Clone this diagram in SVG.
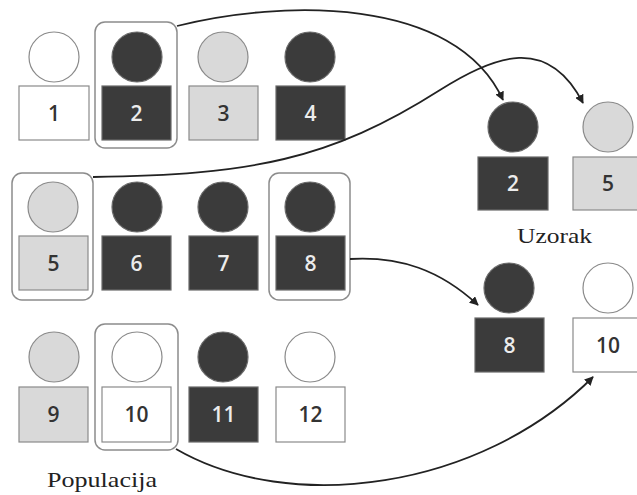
<svg xmlns="http://www.w3.org/2000/svg" width="637" height="495" viewBox="0 0 637 495">
<defs>
<style>
.dk{fill:#3b3b3b;stroke:#6a6a6a;stroke-width:1.2}
.lt{fill:#d9d9d9;stroke:#8a8a8a;stroke-width:1.2}
.wh{fill:#ffffff;stroke:#8a8a8a;stroke-width:1.2}
.box{fill:none;stroke:#8c8c8c;stroke-width:1.5}
.n{font-family:"Open Sans","Liberation Sans",sans-serif;font-size:21px;font-weight:600;text-anchor:middle}
.nw{fill:#ececec}
.nd{fill:#333333}
.lbl{font-family:"Liberation Serif","DejaVu Serif",serif;font-size:22px;fill:#222}
.c{fill:none;stroke:#222;stroke-width:1.8}
</style>
<marker id="ah" viewBox="0 0 10 10" refX="9" refY="5" markerWidth="5" markerHeight="5" orient="auto" markerUnits="strokeWidth">
<path d="M0,0 L10,5 L0,10 z" fill="#222"/>
</marker>
</defs>
<rect width="637" height="495" fill="#ffffff"/>

<g id="selection-boxes">
<rect class="box" x="95" y="22" width="82" height="126" rx="10"/>
<rect class="box" x="12" y="173" width="81" height="127" rx="10"/>
<rect class="box" x="269" y="173" width="81" height="127" rx="10"/>
<rect class="box" x="95" y="324" width="83" height="126" rx="10"/>
</g>

<g id="p1"><circle class="wh" cx="54" cy="57" r="25"/><rect class="wh" x="19" y="86" width="70" height="54"/><text class="n nd" x="54" y="120.5">1</text></g>
<g id="p2"><circle class="dk" cx="137" cy="57" r="25"/><rect class="dk" x="102" y="86" width="69" height="54"/><text class="n nw" x="136.5" y="120.5">2</text></g>
<g id="p3"><circle class="lt" cx="223" cy="57" r="25"/><rect class="lt" x="189" y="86" width="69" height="54"/><text class="n nd" x="223.5" y="120.5">3</text></g>
<g id="p4"><circle class="dk" cx="310" cy="57" r="25"/><rect class="dk" x="276" y="86" width="69" height="54"/><text class="n nw" x="310.5" y="120.5">4</text></g>

<g id="p5"><circle class="lt" cx="53" cy="207" r="25"/><rect class="lt" x="19" y="236" width="69" height="54"/><text class="n nd" x="53.5" y="270.5">5</text></g>
<g id="p6"><circle class="dk" cx="137" cy="207" r="25"/><rect class="dk" x="102" y="236" width="69" height="54"/><text class="n nw" x="136.5" y="270.5">6</text></g>
<g id="p7"><circle class="dk" cx="223" cy="207" r="25"/><rect class="dk" x="189" y="236" width="69" height="54"/><text class="n nw" x="223.5" y="270.5">7</text></g>
<g id="p8"><circle class="dk" cx="310" cy="207" r="25"/><rect class="dk" x="276" y="236" width="69" height="54"/><text class="n nw" x="310.5" y="270.5">8</text></g>

<g id="p9"><circle class="lt" cx="54" cy="357" r="25"/><rect class="lt" x="19" y="387" width="69" height="55"/><text class="n nd" x="53.5" y="422">9</text></g>
<g id="p10"><circle class="wh" cx="137" cy="357" r="25"/><rect class="wh" x="102" y="387" width="69" height="55"/><text class="n nd" x="136.5" y="422">10</text></g>
<g id="p11"><circle class="dk" cx="223" cy="357" r="25"/><rect class="dk" x="189" y="387" width="69" height="55"/><text class="n nw" x="223.5" y="422">11</text></g>
<g id="p12"><circle class="wh" cx="310" cy="357" r="25"/><rect class="wh" x="276" y="387" width="69" height="55"/><text class="n nd" x="310.5" y="422">12</text></g>

<g id="s2"><circle class="dk" cx="513" cy="127" r="25"/><rect class="dk" x="478" y="157" width="70" height="53"/><text class="n nw" x="513" y="191">2</text></g>
<g id="s5"><circle class="lt" cx="608" cy="127" r="25"/><rect class="lt" x="573" y="157" width="70" height="53"/><text class="n nd" x="608" y="191">5</text></g>
<g id="s8"><circle class="dk" cx="509" cy="288" r="25"/><rect class="dk" x="475" y="318" width="69" height="54"/><text class="n nw" x="509.5" y="352.5">8</text></g>
<g id="s10"><circle class="wh" cx="608" cy="288" r="25"/><rect class="wh" x="573" y="318" width="70" height="54"/><text class="n nd" x="608" y="352.5">10</text></g>

<g id="labels">
<text class="lbl" x="517" y="243" textLength="75" lengthAdjust="spacingAndGlyphs">Uzorak</text>
<text class="lbl" x="47" y="487" textLength="110" lengthAdjust="spacingAndGlyphs">Populacija</text>
</g>

<g id="connectors">
<path class="c" marker-end="url(#ah)" d="M177,26 C280,0 455,-5 503,100"/>
<path class="c" marker-end="url(#ah)" d="M93,177 C250,175 330,160 440,90 C495,55 548,35 583,103"/>
<path class="c" marker-end="url(#ah)" d="M350,259 C400,256 440,270 478,305"/>
<path class="c" marker-end="url(#ah)" d="M176,449 C290,515 480,490 593,377"/>
</g>
</svg>
